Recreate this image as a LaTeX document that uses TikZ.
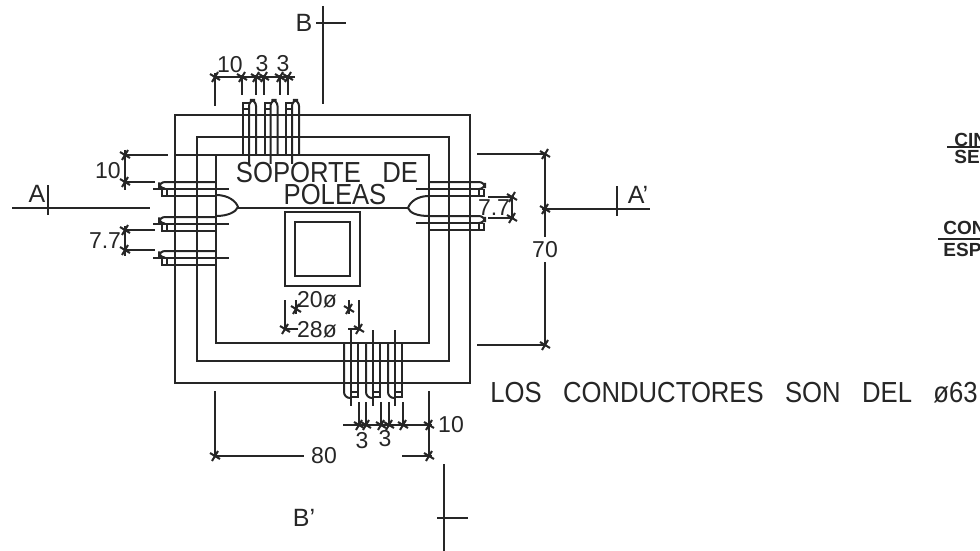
\documentclass[tikz,border=0pt]{standalone}
\usepackage{fontspec}
\setmainfont{Liberation Sans}
\newfontfamily\narrowfont[FakeStretch=0.885,WordSpace=3]{Liberation Sans}
\usetikzlibrary{calc}

\begin{document}
\begin{tikzpicture}[
      x=0.5pt,y=-0.5pt,
      ln/.style = {line width=1pt,black!85},
      dim/.style = {line width=0.9pt,black!85},
      lbl/.style = {inner sep=0pt,font=\fontsize{11.5}{12}\selectfont,text=black!85},
      sec/.style = {inner sep=0pt,font=\fontsize{12.5}{13}\selectfont,text=black!85},
      big/.style = {inner sep=0pt,font=\narrowfont\fontsize{14.5}{15}\selectfont,text=black!85},
      cut/.style = {inner sep=0pt,anchor=west,font=\bfseries\fontsize{9.5}{10}\selectfont,text=black!85},
      tick/.pic = {\draw[line width=1pt,black!85] (-3,5)--(3,-5) (-5,-3)--(5,3);}
      ]
      \useasboundingbox (0,0) rectangle (980,551);

      \draw[ln] (175,115) rectangle (470,383);
      \draw[ln] (197,137) rectangle (449,361);
      \draw[ln] (216,155) rectangle (429,343);
      \draw[ln] (175,155) -- (216,155);
      \draw[ln] (285,212) rectangle (360,286);
      \draw[ln] (295,222) rectangle (350,276);

      \draw[ln] (216,195) .. controls (228,195) and (236,201) .. (238,207) .. controls (236,212) and (228,216) .. (216,216);
      \draw[ln] (429,196) .. controls (417,196) and (410,202) .. (408,208) .. controls (410,213) and (417,216) .. (429,216);
      \draw[ln] (238,208) -- (408,208);

      \foreach \x in {243,264.5,286} {
        \draw[ln] (\x,155) -- (\x,103) -- (\x+6,103) (\x,109) -- (\x+6,109);
        \draw[ln,rounded corners=3pt] (\x+6,164) -- (\x+6,100) -- (\x+13,100) -- (\x+13,155);
      }
      \foreach \x in {344,366,388} {
        \draw[ln,rounded corners=3pt] (\x,343) -- (\x,398) -- (\x+7,398);
        \draw[ln] (\x+7,330) -- (\x+7,406);
        \draw[ln] (\x+14,343) -- (\x+14,392) -- (\x+7,392) (\x+14,392) -- (\x+14,397) -- (\x+7,397);
      }
      \foreach \y in {182,217,251} {
        \draw[ln,rounded corners=3pt] (216,\y) -- (159,\y) -- (159,\y+6.5) -- (165,\y+6.5);
        \draw[ln] (153,\y+6.5) -- (229,\y+6.5);
        \draw[ln] (216,\y+14) -- (162,\y+14) -- (162,\y+6.5) (167,\y+6.5) -- (167,\y+14);
      }
      \foreach \y in {182,216} {
        \draw[ln,rounded corners=3pt] (429,\y) -- (485,\y) -- (485,\y+7) -- (478,\y+7);
        \draw[ln] (416,\y+7) -- (483,\y+7);
        \draw[ln] (429,\y+14) -- (484,\y+14) -- (484,\y+7) (479,\y+7) -- (479,\y+14);
      }

      \draw[dim] (215,77) -- (295,77);
      \draw[dim] (215,73) -- (215,106);
      \foreach \x in {242,256,264,280,288} \draw[dim] (\x,75) -- (\x,95);
      \foreach \x in {215,242,256,264,280,288} \pic at (\x,77) {tick};

      \draw[dim] (125,150) -- (125,190) (125,155) -- (168,155) (125,182) -- (155,182);
      \draw[dim] (125,226) -- (125,256) (125,230) -- (155,230) (125,250) -- (155,250);
      \foreach \y in {155,182,230,250} \pic at (125,\y) {tick};

      \draw[dim] (477,154) -- (545,154) (477,345) -- (545,345);
      \draw[dim] (545,154) -- (545,237) (545,262) -- (545,345);
      \pic at (545,154) {tick};
      \pic at (545,345) {tick};
      \pic at (545,209) {tick};

      \draw[dim] (488,197) -- (514,197) (488,218) -- (514,218) (512,197) -- (512,218);
      \pic at (512,197) {tick};
      \pic at (512,218) {tick};

      \draw[dim] (285,300) -- (285,329) (359,300) -- (359,329);
      \draw[dim] (285,329) -- (298,329) (348,329) -- (359,329);
      \draw[dim] (296,300) -- (296,314) (349,300) -- (349,314);
      \pic at (285,329) {tick};
      \pic at (359,329) {tick};
      \pic at (296,309) {tick};
      \pic at (349,309) {tick};

      \draw[dim] (343,425) -- (432,425);
      \foreach \x in {359,366,381,389,403} {
        \draw[dim] (\x,402) -- (\x,425);
        \pic at (\x,425) {tick};
      }
      \draw[dim] (429,391) -- (429,457) (402,456) -- (432,456);
      \pic at (429,425) {tick};
      \pic at (429,456) {tick};
      \draw[dim] (215,391) -- (215,456) -- (304,456);
      \pic at (215,456) {tick};

      \draw[dim] (12,208) -- (150,208);
      \draw[dim] (48,185) -- (48,215);
      \draw[dim] (542,209) -- (650,209);
      \draw[dim] (617,186) -- (617,216);
      \draw[dim] (323,6) -- (323,104);
      \draw[dim] (316,23) -- (346,23);
      \draw[dim] (444,464) -- (444,551);
      \draw[dim] (437,518) -- (468,518);
      \draw[dim] (947,147) -- (980,147);
      \draw[dim] (938,239) -- (980,239);

      \node[lbl] (top10) at (230,65) {10};
      \node[lbl] (top3a) at (262,64) {3};
      \node[lbl] (top3b) at (283,64) {3};
      \node[lbl] (left10) at (108,171) {10};
      \node[lbl] (left77) at (105,241) {7.7};
      \node[lbl] (right77) at (494,208) {7.7};
      \node[lbl] (right70) at (545,250) {70};
      \node[lbl] (in20) at (317,300) {20ø};
      \node[lbl] (in28) at (317,330) {28ø};
      \node[lbl] (bot3a) at (362,441) {3};
      \node[lbl] (bot3b) at (385,439) {3};
      \node[lbl] (bot10) at (451,425) {10};
      \node[lbl] (bot80) at (324,456) {80};
      \node[sec] (secA) at (37,194) {A};
      \node[sec] (secAp) at (638,195) {A’};
      \node[sec] (secB) at (304,23) {B};
      \node[sec] (secBp) at (304,518) {B’};
      \node[big] (sop) at (327,173) {SOPORTE DE};
      \node[big] (pol) at (335,195) {POLEAS};
      \node[big,anchor=west] (nota) at (490,393) {LOS CONDUCTORES SON DEL ø63};
      \node[cut] (cin) at (954,140) {CIN};
      \node[cut] (sei) at (954,157) {SEI};
      \node[cut] (con) at (943,228) {CON};
      \node[cut] (esp) at (943,250) {ESP};
    \end{tikzpicture}
\end{document}
